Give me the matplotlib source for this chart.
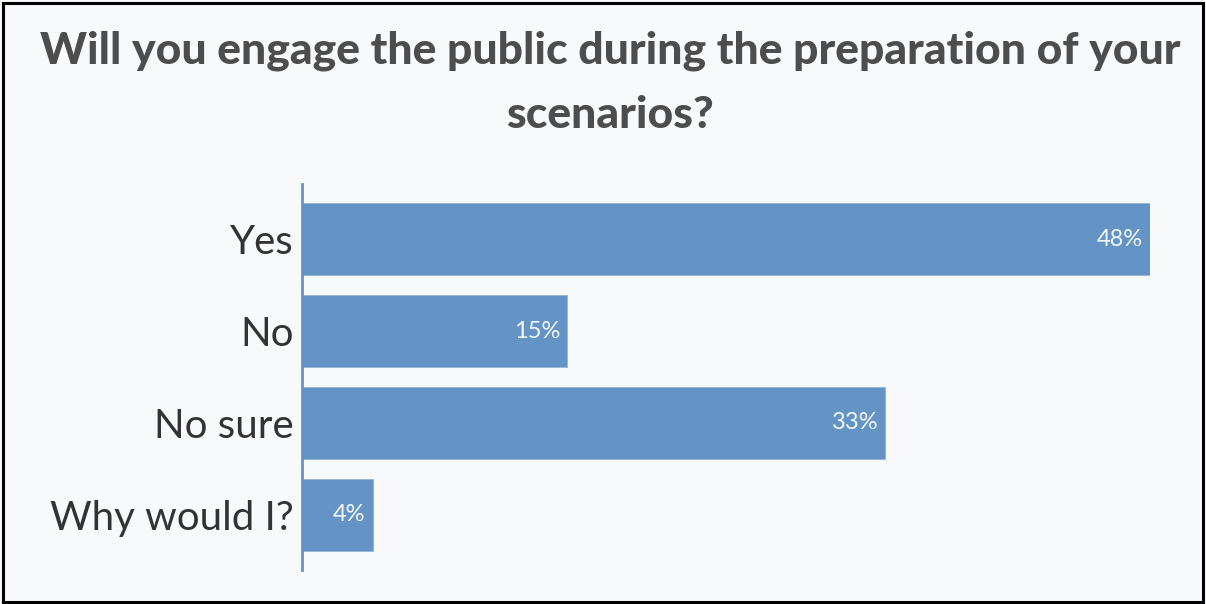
import matplotlib
matplotlib.use("Agg")
import matplotlib.pyplot as plt
from matplotlib.patches import Rectangle

categories = ["Yes", "No", "No sure", "Why would I?"]
values = [48, 15, 33, 4]
value_labels = ["48%", "15%", "33%", "4%"]
title = "Will you engage the public during the preparation of your\nscenarios?"

W, H = 1206, 604
fig = plt.figure(figsize=(W / 100, H / 100), dpi=100)
bg = "#f8f9fb"
fig.patch.set_facecolor(bg)

ax = fig.add_axes([302 / W, (H - 570) / H, 848 / W, 386 / H])
ax.set_facecolor(bg)
bar_color = "#6394c5"
ypos = list(range(len(categories)))
ax.barh(ypos, values, height=0.79, color=bar_color, edgecolor="#8fb3d9", linewidth=0.6)
ax.set_xlim(0, 48)
ax.set_ylim(3.6, -0.6)
ax.set_yticks(ypos)
ax.set_yticklabels(categories, fontsize=29, color="#333333", family=["Lato", "DejaVu Sans"])
ax.tick_params(axis="y", length=0, pad=6)
ax.set_xticks([])
for s in ["top", "right", "bottom"]:
    ax.spines[s].set_visible(False)
ax.spines["left"].set_color(bar_color)
ax.spines["left"].set_linewidth(2)

for y, v, lab in zip(ypos, values, value_labels):
    ax.annotate(lab, (v, y), xytext=(-5, 0), textcoords="offset points",
                ha="right", va="center", color="#f4f7fb", fontsize=17,
                family=["Lato", "DejaVu Sans"])

fig.text(0.506, 0.863, title, ha="center", va="center", fontsize=32,
         fontweight=900, color="#4d4d4d", linespacing=1.72,
         family=["Lato", "DejaVu Sans"])

fig.patches.append(Rectangle((3 / W, 2 / H), 1200 / W, 599 / H, transform=fig.transFigure,
                             fill=False, edgecolor="black", linewidth=2.2))

fig.savefig("out.png", dpi=100, facecolor=bg)
